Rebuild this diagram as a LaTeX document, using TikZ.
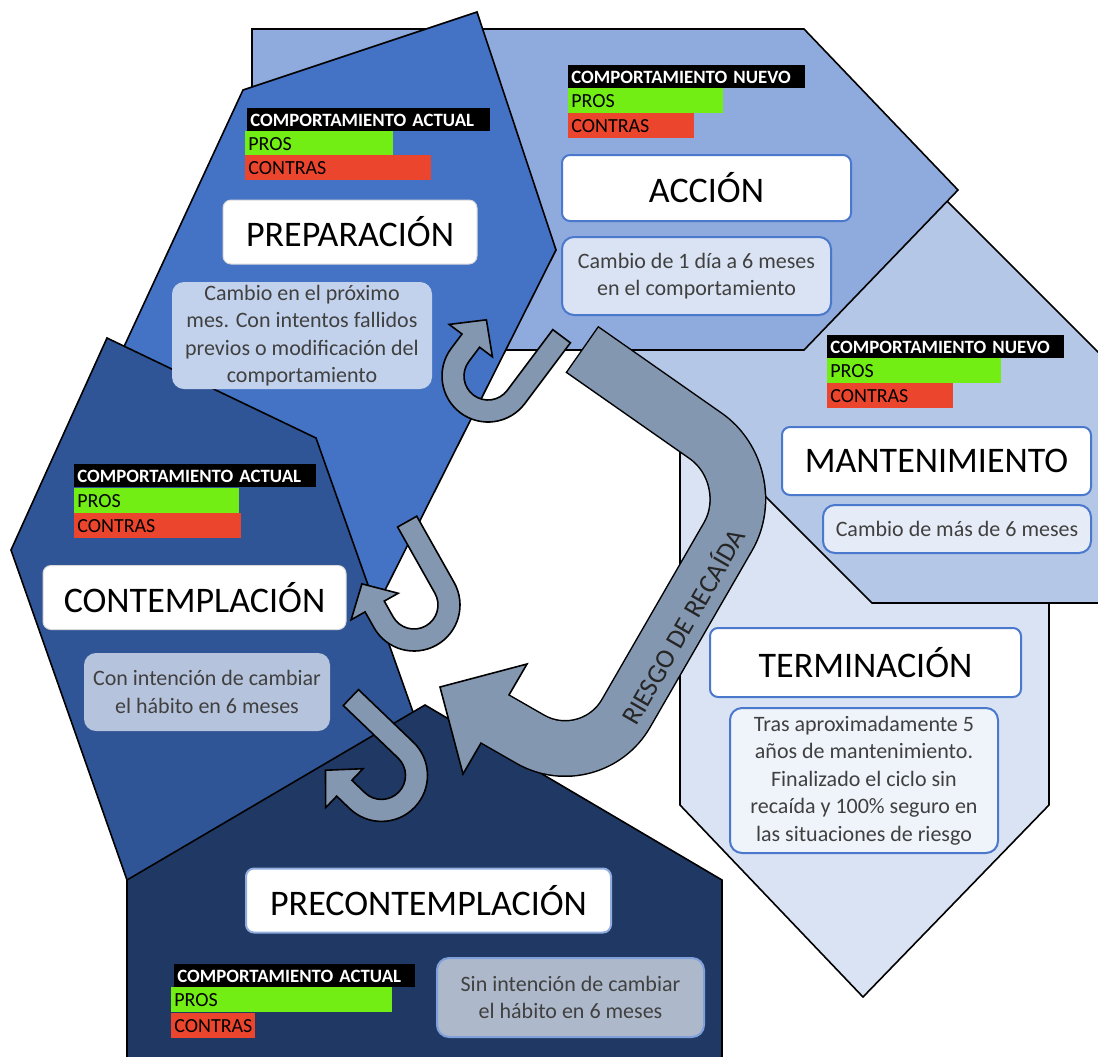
\documentclass[tikz,border=0pt]{standalone}
\usepackage{fontspec}
\setmainfont{Carlito}

\definecolor{accionblue}{HTML}{8FAADC}
\definecolor{prepblue}{HTML}{4472C4}
\definecolor{contblue}{HTML}{2F5597}
\definecolor{precblue}{HTML}{203864}
\definecolor{mantblue}{HTML}{B4C7E7}
\definecolor{termblue}{HTML}{DAE3F3}
\definecolor{arrowgray}{HTML}{8497B0}
\definecolor{prosgreen}{HTML}{72EE14}
\definecolor{contrared}{HTML}{EC452E}
\definecolor{descgray}{HTML}{404040}
\definecolor{edgeblue}{HTML}{4A78CC}
\definecolor{prepdesc}{HTML}{C3D2EC}
\definecolor{accdesc}{HTML}{DAE3F3}
\definecolor{mantdesc}{HTML}{E6ECF7}
\definecolor{termdesc}{HTML}{EFF3FA}
\definecolor{contdesc}{HTML}{B6C3DD}
\definecolor{precdesc}{HTML}{ADB9CA}

% U-shaped arrow between two stages: #1 centre of the bend, #2 rotation
\newcommand{\stagearrow}[2]{%
  \begin{scope}[shift={#1}, rotate=#2, yscale=-1]
    \filldraw[uarrow] (46,76) -- (46,0) arc[start angle=0, end angle=-180, radius=46]
      -- (-46,18) -- (-62,18) -- (-35,44) -- (-8,18) -- (-24,18) -- (-24,0)
      arc[start angle=180, end angle=360, radius=24] -- (24,76) -- cycle;
  \end{scope}}

\begin{document}
\begin{tikzpicture}[
    x=0.5pt, y=-0.5pt,
    stage/.style={draw=black, line width=0.8pt, line join=miter},
    uarrow/.style={fill=arrowgray, draw=black, line width=0.8pt, line join=miter},
    hdrbar/.style={fill=black, text=white, anchor=north west, inner xsep=1.5pt, inner ysep=0pt,
        minimum height=11.5pt, text height=6.4pt, text depth=0pt, align=left,
        font=\fontsize{9.4}{11}\selectfont\bfseries},
    prosbar/.style={fill=prosgreen, text=black, anchor=north west, inner xsep=1.5pt, inner ysep=0pt,
        minimum height=12.5pt, text height=6.6pt, text depth=0pt, align=left,
        font=\fontsize{10}{11}\selectfont},
    contrabar/.style={prosbar, fill=contrared},
    titlebox/.style={fill=white, rounded corners=4pt, draw=edgeblue, line width=1pt,
        font=\fontsize{18}{21}\selectfont, minimum height=32pt},
    descbox/.style={rounded corners=6pt, draw=edgeblue, line width=1pt, text=descgray,
        align=center, font=\fontsize{11}{13.7}\selectfont, inner sep=0pt}
]
    \useasboundingbox (0,0) rectangle (1098,1056);
    \clip (0,0) rectangle (1098,1056);

    % Stage shapes, back to front
    \draw[stage, fill=termblue]   (680,430) -- (1049,430) -- (1049,805) -- (863,997) -- (680,805) -- cycle;
    \draw[stage, fill=mantblue]   (540,271) -- (800,54) -- (1140,394) -- (1140,603) -- (872,603) -- cycle;
    \draw[stage, fill=accionblue] (252,29) -- (804,29) -- (958,190) -- (804,350) -- (252,350) -- cycle;
    \draw[stage, fill=prepblue]   (243,90) -- (477,12) -- (556,250) -- (370,620) -- (90,420) -- cycle;
    \draw[stage, fill=contblue]   (107,338) -- (316,438) -- (430,760) -- (127,880) -- (11,550) -- cycle;
    \draw[stage, fill=precblue]   (127,880) -- (425,705) -- (722,880) -- (722,1080) -- (127,1080) -- cycle;

    % Relapse arrow
    \coordinate (rTailB)  at (581.8,349.2);
    \coordinate (rTail)   at (583,350);
    \coordinate (rBendA)  at (763,476);
    \coordinate (rBendB)  at (591,774);
    \coordinate (rBase)   at (495,719);
    \coordinate (rBaseIn) at (492.4,717.5);
    \coordinate (rTip)    at (440,687);
    \coordinate (rBarbA)  at (527,664);
    \coordinate (rBarbB)  at (463,774);
    \draw[line width=28.5pt, rounded corners=35pt] (rTailB) -- (rBendA) -- (rBendB) -- (rBase);
    \filldraw[uarrow] (rTip) -- (rBarbA) -- (rBarbB) -- cycle;
    \draw[arrowgray, line width=27pt, rounded corners=35pt] (rTail) -- (rBendA) -- (rBendB) -- (rBaseIn);
    \node[rotate=60, text=black!85, font=\fontsize{13.5}{15}\selectfont] (riesgo) at (682,626) {RIESGO DE RECAÍDA};

    % Progress arrows
    \stagearrow{(488,376)}{-36.87}
    \stagearrow{(414,605)}{29.4}
    \stagearrow{(381.5,775.4)}{46.2}

    % Preparacion
    \node[hdrbar, text width=118.5pt]   (prepHdr)    at (247,108) {\mbox{COMPORTAMIENTO ACTUAL}};
    \node[prosbar, text width=71pt]     (prepPros)   at (245,131) {PROS};
    \node[contrabar, text width=90pt]   (prepContra) at (245,155) {CONTRAS};
    \node[titlebox, draw=gray!30, line width=0.5pt, minimum width=127pt] (prepTitle) at (350,232) {PREPARACIÓN};
    \node[descbox, fill=prepdesc, draw=none, minimum width=130pt, minimum height=53.5pt] (prepDesc) at (302,335.5)
        {Cambio en el próximo\\mes. Con intentos fallidos\\previos o modificación del\\comportamiento};

    % Accion
    \node[hdrbar, text width=115.5pt]   (accHdr)    at (568,65) {\mbox{COMPORTAMIENTO NUEVO}};
    \node[prosbar, text width=74.5pt]   (accPros)   at (568,88) {PROS};
    \node[contrabar, text width=60pt]   (accContra) at (568,113) {CONTRAS};
    \node[titlebox, minimum width=144.5pt, minimum height=33pt] (accTitle) at (706.5,188) {ACCIÓN};
    \node[descbox, fill=accdesc, minimum width=134.5pt, minimum height=39pt] (accDesc) at (696.5,276)
        {Cambio de 1 día a 6 meses\\en el comportamiento};

    % Mantenimiento
    \node[hdrbar, text width=115.5pt]   (mantHdr)    at (827,335) {\mbox{COMPORTAMIENTO NUEVO}};
    \node[prosbar, text width=84pt]     (mantPros)   at (827,358) {PROS};
    \node[contrabar, text width=60pt]   (mantContra) at (827,383) {CONTRAS};
    \node[titlebox, minimum width=154.5pt, minimum height=34pt] (mantTitle) at (936.5,461) {MANTENIMIENTO};
    \node[descbox, fill=mantdesc, minimum width=134pt, minimum height=24pt] (mantDesc) at (957,529)
        {Cambio de más de 6 meses};

    % Terminacion
    \node[titlebox, minimum width=155.5pt, minimum height=34.5pt] (termTitle) at (865.5,662.5) {TERMINACIÓN};
    \node[descbox, fill=termdesc, minimum width=134pt, minimum height=72.5pt] (termDesc) at (864,780.5)
        {Tras aproximadamente 5\\años de mantenimiento.\\Finalizado el ciclo sin\\recaída y 100\% seguro en\\las situaciones de riesgo};

    % Contemplacion
    \node[hdrbar, text width=118pt]     (contHdr)    at (74,464) {\mbox{COMPORTAMIENTO ACTUAL}};
    \node[prosbar, text width=79.5pt]   (contPros)   at (74,488) {PROS};
    \node[contrabar, text width=80.5pt] (contContra) at (74,513) {CONTRAS};
    \node[titlebox, draw=gray!30, line width=0.5pt, minimum width=151.5pt] (contTitle) at (194.5,597.5) {CONTEMPLACIÓN};
    \node[descbox, fill=contdesc, draw=none, minimum width=123pt, minimum height=39pt] (contDesc) at (207,692)
        {Con intención de cambiar\\el hábito en 6 meses};

    % Precontemplacion
    \node[titlebox, draw=edgeblue!60, minimum width=182.5pt] (precTitle) at (428.5,900.5) {PRECONTEMPLACIÓN};
    \node[hdrbar, text width=117.5pt]   (precHdr)    at (174,964) {\mbox{COMPORTAMIENTO ACTUAL}};
    \node[prosbar, text width=107.5pt]  (precPros)   at (171,987) {PROS};
    \node[contrabar, text width=39pt]   (precContra) at (171,1013) {CONTRAS};
    \node[descbox, fill=precdesc, draw=edgeblue!70, minimum width=133.5pt, minimum height=39.5pt] (precDesc) at (570.5,997.5)
        {Sin intención de cambiar\\el hábito en 6 meses};
\end{tikzpicture}
\end{document}
